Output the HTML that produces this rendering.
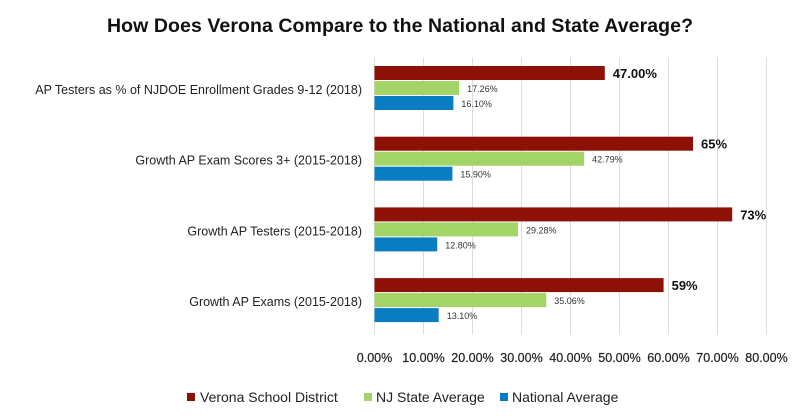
<!DOCTYPE html>
<html><head><meta charset="utf-8"><style>
body{margin:0;background:#fff;}
svg text{font-family:"Liberation Sans",sans-serif;}
</style></head><body>
<svg id="chart" width="800" height="413" xmlns="http://www.w3.org/2000/svg">
<text x="400" y="32" text-anchor="middle" font-size="19.5" font-weight="bold" fill="#111" textLength="586">How Does Verona Compare to the National and State Average?</text>
<g id="grid"></g><g id="bars"></g><g id="labels"></g><g id="ticks"></g>
<g>
<rect x="187" y="393" width="8" height="8" fill="#8e1108"/>
<text x="200" y="402" font-size="14" fill="#222">Verona School District</text>
<rect x="364" y="393" width="8" height="8" fill="#a3d468"/>
<text x="376" y="402" font-size="14" fill="#222">NJ State Average</text>
<rect x="500" y="393" width="8" height="8" fill="#0a7dc2"/>
<text x="512" y="402" font-size="14" fill="#222">National Average</text>
</g>
</svg>
<script>
const categories=["AP Testers as % of NJDOE Enrollment Grades 9-12 (2018)","Growth AP Exam Scores 3+ (2015-2018)","Growth AP Testers  (2015-2018)","Growth AP Exams (2015-2018)"];
const verona=[47,65,73,59];
const veronaLabels=["47.00%","65%","73%","59%"];
const njState=[17.26,42.79,29.28,35.06];
const national=[16.1,15.9,12.8,13.1];
const tickValues=[0,10,20,30,40,50,60,70,80];
const NS="http://www.w3.org/2000/svg";
const x0=374.5,pxPer=4.9;
const xs=v=>x0+v*pxPer;
const groupTop=i=>66+i*70.7;
function mk(tag,attrs,parent,text){const e=document.createElementNS(NS,tag);for(const k in attrs)e.setAttribute(k,attrs[k]);if(text!==undefined)e.textContent=text;document.getElementById(parent).appendChild(e);return e;}
tickValues.forEach((t,i)=>{
 const l=mk('line',{x1:xs(t),x2:xs(t),y1:58,y2:334,stroke:'#dcdcdc','stroke-width':1},'grid');
 
 
 const tx=mk('text',{x:xs(t),y:362,'text-anchor':'middle','font-size':12.5,fill:'#222',stroke:'#222','stroke-width':0.2},'ticks',t.toFixed(2)+'%');
 
 
});
const series=[{d:verona,c:'#8e1108',n:'verona'},{d:njState,c:'#a3d468',n:'nj'},{d:national,c:'#0a7dc2',n:'national'}];
categories.forEach((cat,i)=>{
 const gt=groupTop(i);
 const cl=mk('text',{x:362,y:gt+28,'text-anchor':'end','font-size':12.5,fill:'#222'},'labels',cat);
 
 
 series.forEach((s,j)=>{
  const y=gt+j*15;
  const r=mk('rect',{x:x0,y:y,width:xs(s.d[i])-x0,height:14,fill:s.c},'bars');
  
  
  let t;
  if(j===0) t=mk('text',{x:xs(s.d[i])+8,y:y+12,'font-size':13,'font-weight':'bold',fill:'#111'},'labels',veronaLabels[i]);
  else t=mk('text',{x:xs(s.d[i])+8,y:y+11,'font-size':9,fill:'#333'},'labels',s.d[i].toFixed(2)+'%');
  
  
 });
});
</script>
</body></html>
